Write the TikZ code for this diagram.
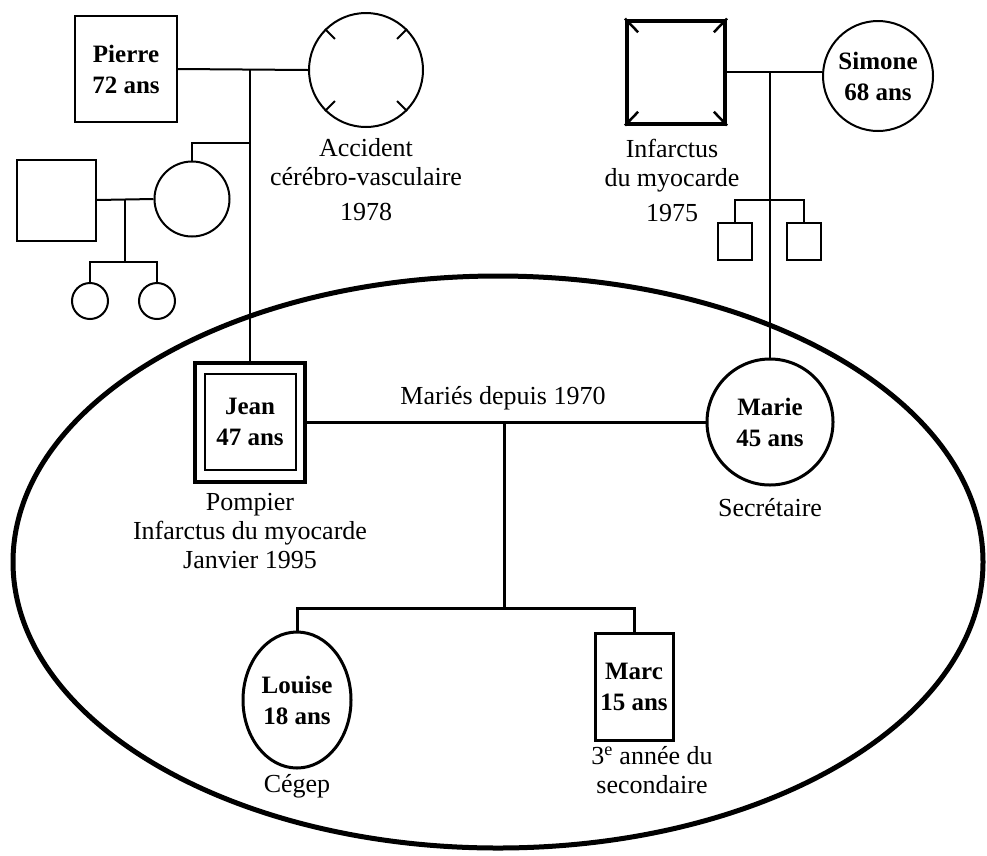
\documentclass[tikz,border=0pt]{standalone}
\usepackage{fontspec}
\setmainfont{Liberation Serif}
\usetikzlibrary{positioning,calc,shapes.geometric}

\begin{document}
\begin{tikzpicture}[x=1pt, y=-1pt,
    every node/.style={font=\bfseries\fontsize{25}{31}\selectfont},
    male/.style={draw, line width=2pt, align=center, inner sep=0pt, minimum width=102pt, minimum height=106pt},
    female/.style={draw, circle, line width=2pt, align=center, inner sep=0pt, minimum size=114pt},
    note/.style={align=center, inner sep=0pt, font=\fontsize{26}{29}\selectfont},
    link/.style={line width=2pt},
    famlink/.style={line width=3pt},
  ]
    \useasboundingbox (0,0) rectangle (987,855);

    % grand-parents, father side
    \node[male] (pierre) at (126,69) {Pierre\\72 ans};
    \node[female] (avc) at (366,70) {};
    \foreach \a in {45,135,225,315}
      \draw[link] (avc.\a) -- ($(avc.\a)!14pt!(avc.center)$);
    \node[note] (avctxt) at (366,180) {Accident\\cérébro-vasculaire\\[6pt]1978};
    \draw[link] (pierre.east) -- (avc.west);

    % aunt and her family
    \node[male, minimum width=79pt, minimum height=81pt] (uncle) at (56,200) {};
    \node[female, minimum size=75pt] (aunt) at (192,199) {};
    \node[female, minimum size=36pt] (cousin1) at (90,301) {};
    \node[female, minimum size=36pt] (cousin2) at (157,301) {};
    \coordinate (auntbar) at (250,143);
    \coordinate (cbar) at (125,262);
    \draw[link] (uncle.east) -- (aunt.west);
    \draw[link] (aunt.north) |- (auntbar);
    \draw[link] (cbar) -- (cbar |- uncle.east);
    \draw[link] (cousin1.north) |- (cbar) -| (cousin2.north);

    % grand-parents, mother side
    \node[draw, line width=4pt, minimum width=98pt, minimum height=103pt] (infarct) at (676,72) {};
    \foreach \c in {north west,north east,south west,south east}
      \draw[line width=2.5pt] (infarct.\c) -- ($(infarct.\c)!19pt!(infarct.center)$);
    \node[note] (inftxt) at (672,180) {Infarctus\\du myocarde\\[6pt]1975};
    \node[female, minimum size=110pt] (simone) at (878,76) {Simone\\68 ans};
    \draw[link] (infarct.east) -- (infarct.east -| simone.west);

    % uncles, mother side
    \node[draw, line width=2pt, minimum width=34pt, minimum height=37pt] (bro1) at (735,241) {};
    \node[draw, line width=2pt, minimum width=34pt, minimum height=37pt] (bro2) at (804,241) {};
    \coordinate (bbar) at (770,200);
    \draw[link] (bro1.north) |- (bbar) -| (bro2.north);

    % household
    \draw[line width=5pt] (498,562) ellipse [x radius=485, y radius=286];

    \node[draw, line width=4pt, minimum width=110pt, minimum height=119pt] (jean) at (250,422) {};
    \node[draw, line width=2pt, minimum width=91pt, minimum height=96pt, align=center, inner sep=0pt] (jeanin) at (jean) {Jean\\47 ans};
    \node[note, below=10pt of jean] (jeantxt) {Pompier\\Infarctus du myocarde\\Janvier 1995};

    \node[female, line width=3pt, minimum size=126pt] (marie) at (770,422) {Marie\\45 ans};
    \node[note, below=12pt of marie] (marietxt) {Secrétaire};

    \draw[link] (jean.north) -- (jean.north |- pierre.east);
    \draw[link] (marie.north) -- (marie.north |- infarct.east);

    \draw[famlink] (jean.east) -- (marie.west);
    \node[note] (married) at (503,398) {Mariés depuis 1970};

    \node[draw, ellipse, line width=3pt, inner sep=0pt, align=center, minimum width=108pt, minimum height=136pt] (louise) at (297,700) {Louise\\18 ans};
    \node[note, below=5pt of louise] (louisetxt) {Cégep};
    \node[draw, line width=3pt, inner sep=0pt, align=center, minimum width=78pt, minimum height=107pt] (marc) at (634,687) {Marc\\15 ans};
    \node[note] (marctxt) at (652,770) {3\textsuperscript{e} année du\\secondaire};

    \coordinate (kbar) at (504,608);
    \draw[famlink] (kbar) -- (kbar |- jean.east);
    \draw[famlink] (louise.north) |- (kbar) -| (marc.north);
  \end{tikzpicture}
\end{document}
